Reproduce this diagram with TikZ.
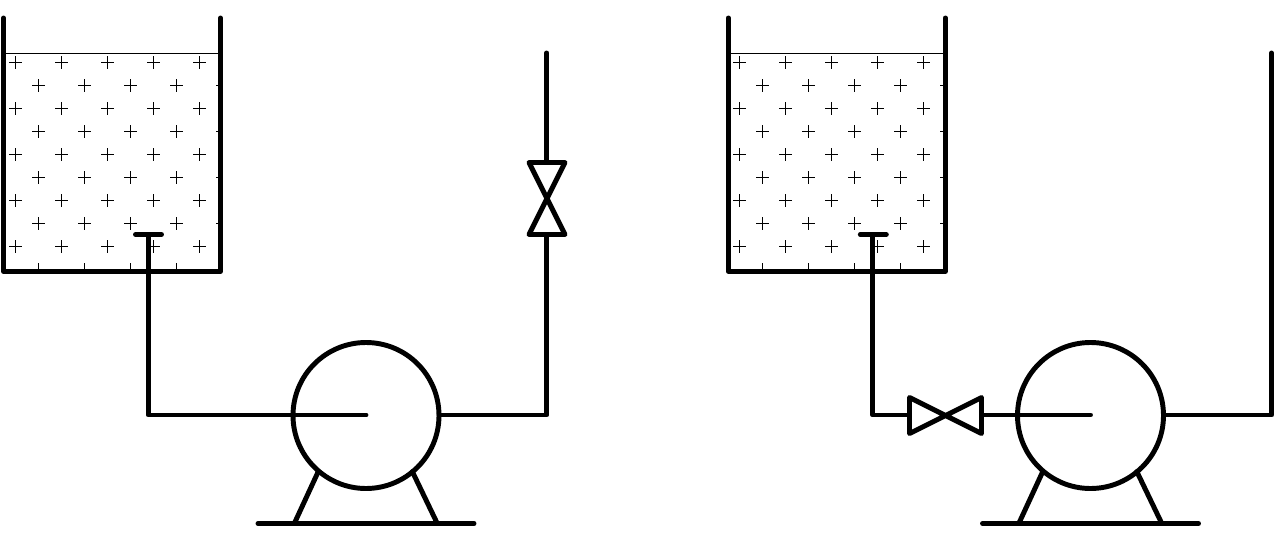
\documentclass[tikz,border=0pt]{standalone}
\begin{document}
\begin{tikzpicture}[x=0.75pt,y=-0.75pt,
  heavy/.style={line width=3.7pt,line cap=round,line join=round},
  surface/.style={line width=0.75pt},
  plusmark/.style={line width=0.75pt}]
\useasboundingbox[fill=white] (0,0) rectangle (1275,539);
\tikzset{
  tankfill/.pic={
    \begin{scope}
      \clip (3.5,53.5) rectangle (221,271);
      \foreach \r in {0,1,2,3,4}{
        \foreach \c in {0,1,2,3,4}{
          \draw[plusmark] ({15.5+46*\c-6.5},{62.5+46*\r}) -- ++(13,0) ({15.5+46*\c},{62.5+46*\r-6.5}) -- ++(0,13);
          \draw[plusmark] ({38.5+46*\c-6.5},{85.5+46*\r}) -- ++(13,0) ({38.5+46*\c},{85.5+46*\r-6.5}) -- ++(0,13);
        }
      }
    \end{scope}
    \draw[surface] (3.5,53.5) -- (220.5,53.5);
  },
  tankwall/.pic={
    \draw[heavy] (3.5,18) -- (3.5,271.3) -- (220.5,271.3) -- (220.5,18);
    \draw[heavy] (135.5,234.5) -- (161.5,234.5);
  },
  pump/.pic={
    \draw[heavy] (366,415.5) circle[radius=73];
    \draw[heavy] (318.3,471.5) -- (294.3,523.5);
    \draw[heavy] (412.3,471.5) -- (437.3,523.5);
    \draw[heavy] (258,523.5) -- (474,523.5);
  }
}
% left system
\pic at (0,0) {tankfill};
\pic at (0,0) {tankwall};
\pic at (0,0) {pump};
\draw[heavy] (148.5,234.5) -- (148.5,415) -- (366,415);
\draw[heavy] (439,415) -- (546.7,415) -- (546.7,234.5);
\draw[heavy] (546.7,162.5) -- (546.7,53);
\draw[heavy] (529,162.5) -- (565,162.5) -- (529,234.5) -- (565,234.5) -- cycle;
% right system
\pic at (724,0) {tankfill};
\pic at (724.8,0) {tankwall};
\pic at (724.5,0) {pump};
\draw[heavy] (872.7,234.5) -- (872.7,415) -- (909.5,415);
\draw[heavy] (981.5,415) -- (1090.5,415);
\draw[heavy] (909.5,397.5) -- (909.5,433.5) -- (981.5,397.5) -- (981.5,433.5) -- cycle;
\draw[heavy] (1163.5,415) -- (1271.5,415) -- (1271.5,53);
\end{tikzpicture}
\end{document}
